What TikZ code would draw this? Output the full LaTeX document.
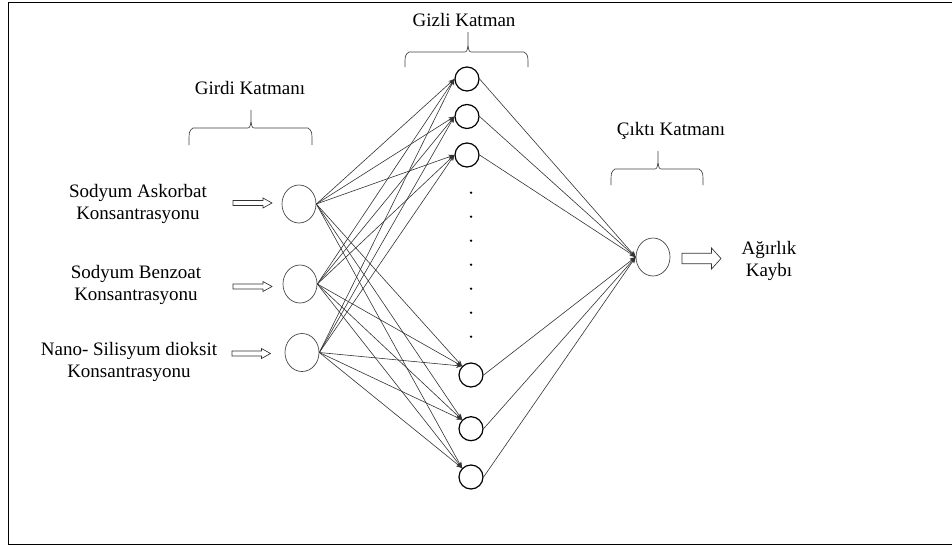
\documentclass[tikz,border=0pt]{standalone}
\usepackage{fontspec}
\setmainfont{Liberation Serif}
\usetikzlibrary{arrows.meta,shapes.geometric}

% curly brace over a layer: x-left, x-middle, x-right, y of bar, y of ends, y of tip
\newcommand\layerbrace[6]{%
  \draw[bracestyle] (#1,#5) .. controls (#1,{#4+3}) .. ({#1+4},#4) -- ({#2-5},#4)
    .. controls ({#2-1},#4) .. (#2,{#4-7}) -- (#2,#6)
    (#2,{#4-7}) .. controls ({#2+1},#4) .. ({#2+5},#4) -- ({#3-4},#4)
    .. controls (#3,{#4+3}) .. (#3,#5);}
% open block arrow: x start, x tip, y, half body, half head, head length
\newcommand\blockarrow[6]{%
  \draw[blockstyle] (#1,{#3-#4}) -- ({#2-#6},{#3-#4}) -- ({#2-#6},{#3-#5}) -- (#2,#3)
    -- ({#2-#6},{#3+#5}) -- ({#2-#6},{#3+#4}) -- (#1,{#3+#4}) -- cycle;}

\begin{document}
\begin{tikzpicture}[x=0.75pt,y=-0.75pt,
  lbl/.style={font=\fontsize{14.25}{16.5}\selectfont, align=center, inner sep=0pt},
  innode/.style={draw=black!75, line width=0.5pt, ellipse, minimum width=25.5pt, minimum height=28.5pt, inner sep=0pt},
  hidnode/.style={draw=black, line width=0.9pt, circle, minimum size=18pt, inner sep=0pt},
  outnode/.style={draw=black!75, line width=0.5pt, ellipse, minimum width=25.5pt, minimum height=28.5pt, inner sep=0pt},
  link/.style={draw=black!80, line width=0.45pt, -{Stealth[length=4.5pt,width=3.6pt]}},
  bracestyle/.style={draw=black!75, line width=0.5pt},
  blockstyle/.style={draw=black!80, line width=0.5pt}]
\useasboundingbox (0,0) rectangle (952,546);

% frame
\draw[line width=1.1pt, line cap=rect] (952,2.5) -- (8.5,2.5) -- (8.5,544.5) -- (952,544.5);

% input layer
\node[innode] (i1) at (299,204) {};
\node[innode] (i2) at (300,284) {};
\node[innode] (i3) at (302,352.5) {};

% hidden layer
\node[hidnode] (h1) at (467,79) {};
\node[hidnode] (h2) at (467,116.5) {};
\node[hidnode] (h3) at (467,155) {};
\node[hidnode] (h4) at (471,375) {};
\node[hidnode] (h5) at (471,428.7) {};
\node[hidnode] (h6) at (471,477) {};
\foreach \k in {0,...,6}
  \fill (471,{192.7+24*\k}) circle (1.3);

% output layer
\node[outnode] (o) at (653,257) {};

% input -> hidden
\foreach \i in {i1,i2,i3}{
  \foreach \h in {h1,h2,h3}
    \draw[link] (\i.east) -- (\h.west);
  \foreach \h in {h4,h5,h6}
    \draw[link] (\i.east) -- (\h.135);
}
% hidden -> output
\foreach \h in {h1,h2,h3,h4,h5,h6}
  \draw[link] (\h.east) -- (o.west);

% feature labels and their arrows
\node[lbl] (t1) at (138,204) {Sodyum Askorbat\\Konsantrasyonu};
\node[lbl] (t2) at (136,285) {Sodyum Benzoat\\Konsantrasyonu};
\node[lbl] (t3) at (129,362) {Nano- Silisyum dioksit\\Konsantrasyonu};
\blockarrow{233}{272}{203}{2.5}{5}{9}
\blockarrow{233}{272}{286.5}{2.5}{5}{9}
\blockarrow{232}{270.5}{353.5}{2.5}{5}{9}

% result
\blockarrow{682}{721}{258.5}{5.3}{10.5}{9.5}
\node[lbl] (res) at (769,261) {Ağırlık\\Kaybı};

% layer titles and braces
\node[lbl] (g1) at (250,88) {Girdi Katmanı};
\node[lbl] (g2) at (464,20) {Gizli Katman};
\node[lbl] (g3) at (671,131) {Çıktı Katmanı};
\layerbrace{189}{251}{312}{128}{145}{110}
\layerbrace{405}{468}{528}{52}{67}{32}
\layerbrace{611}{658}{703}{169}{185}{151}
\end{tikzpicture}
\end{document}
